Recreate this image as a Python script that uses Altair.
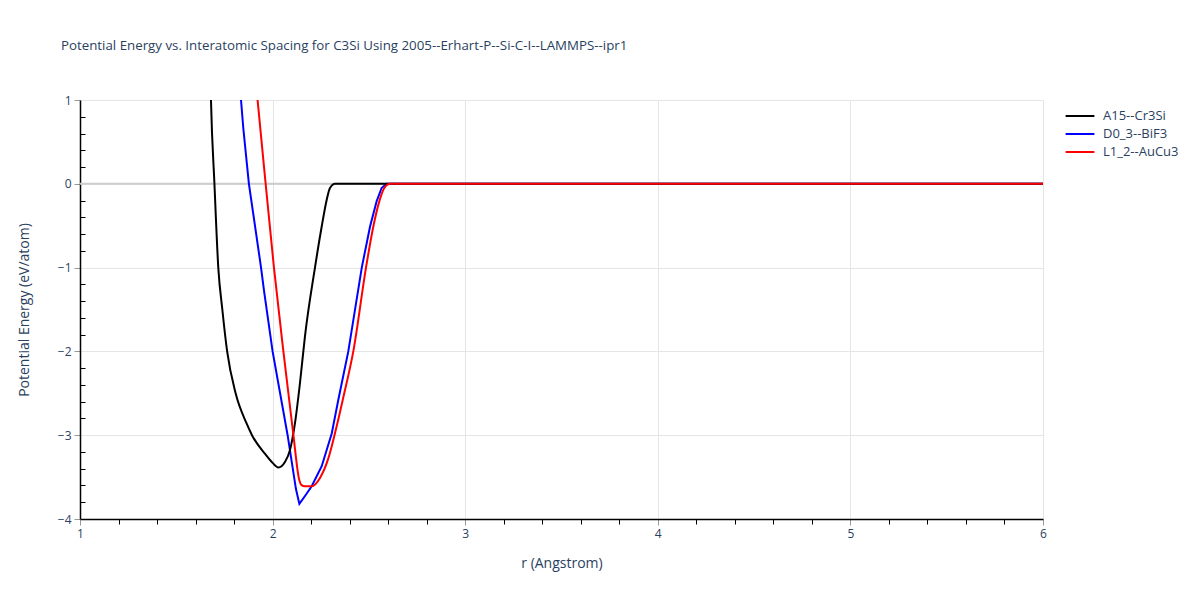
import altair as alt
import pandas as pd

# Data
a15_r = [1.677, 1.680, 1.698, 1.718, 1.739, 1.764, 1.808, 1.865, 1.893, 1.960, 2.000, 2.030,
         2.064, 2.090, 2.116, 2.142, 2.168, 2.220, 2.255, 2.281, 2.298, 2.324, 6.0]
a15_e = [1.3, 1.0, 0.0, -1.0, -1.5, -2.0, -2.5, -2.86, -3.0, -3.22, -3.33, -3.385,
         -3.32, -3.18, -2.86, -2.38, -1.82, -1.0, -0.51, -0.19, -0.05, 0.0, 0.0]

d03_r = [1.825, 1.836, 1.848, 1.877, 1.940, 1.955, 2.000, 2.078, 2.121, 2.139, 2.170, 2.203, 2.255, 2.307,
         2.341, 2.393, 2.463, 2.506, 2.540, 2.566, 2.592, 6.0]
d03_e = [1.3, 1.0, 0.66, 0.0, -1.0, -1.27, -2.0, -3.0, -3.64, -3.82, -3.72, -3.61, -3.37, -2.98,
         -2.58, -2.0, -1.0, -0.51, -0.21, -0.05, 0.0, 0.0]

l12_r = [1.910, 1.922, 1.964, 2.007, 2.056, 2.108, 2.137, 2.148, 2.168, 2.203, 2.246, 2.289, 2.332,
         2.367, 2.419, 2.485, 2.523, 2.554, 2.580, 2.610, 6.0]
l12_e = [1.3, 1.0, 0.0, -1.0, -2.0, -3.0, -3.52, -3.59, -3.61, -3.61, -3.51, -3.28, -2.90,
         -2.55, -2.0, -1.0, -0.51, -0.21, -0.05, 0.0, 0.0]

series_names = ["A15--Cr3Si", "D0_3--BiF3", "L1_2--AuCu3"]
series_colors = ["#000000", "#0000ff", "#ff0000"]

x_ticks = [round(1 + 0.2 * i, 1) for i in range(26)]
y_major = [1, 0, -1, -2, -3, -4]
y_minor = [round(-4 + 0.2 * i, 1) for i in range(26) if (i % 5) != 0]

rows = []
for name, rs, es in zip(series_names, [a15_r, d03_r, l12_r], [a15_e, d03_e, l12_e]):
    for i, (r, e) in enumerate(zip(rs, es)):
        rows.append({"series": name, "r": r, "E": e, "order": i})
df = pd.DataFrame(rows)

FONT = "Open Sans"
TXT = "#2a3f5f"
is_int = "abs(datum.value - round(datum.value)) < 1e-6"

xscale = alt.Scale(domain=[1, 6], nice=False, zero=False)
yscale = alt.Scale(domain=[-4, 1], nice=False, zero=False)

x_axis = alt.Axis(values=x_ticks, title="r (Angstrom)",
                  labelExpr=f"{is_int} ? format(datum.value, 'd') : ''",
                  grid=True, gridColor="#e5e5e5",
                  gridOpacity={"condition": {"test": is_int, "value": 1}, "value": 0},
                  tickColor={"condition": {"test": is_int, "value": "#999999"}, "value": "#000000"},
                  tickSize={"condition": {"test": is_int, "value": 6}, "value": 5},
                  domainColor="#000000", domainWidth=1.5,
                  labelPadding=3, titlePadding=17, labelFlush=False)

color_enc = alt.Color("series:N", scale=alt.Scale(domain=series_names, range=series_colors),
                      legend=alt.Legend(title=None, orient="none", legendX=990, legendY=6,
                                        symbolType="M-1.6,0H1.6", symbolSize=324, symbolStrokeWidth=2,
                                        symbolFillColor="transparent",
                                        rowPadding=1, labelFontSize=13, labelColor=TXT, labelFont=FONT,
                                        labelOffset=13))

zero_rule = alt.Chart(pd.DataFrame({"z": [0]})).mark_rule(color="#cccccc", strokeWidth=2).encode(
    y=alt.Y("z:Q", scale=yscale,
            axis=alt.Axis(orient="left", offset=-5, values=y_minor, tickColor="#000000", tickSize=5,
                          tickWidth=1, labels=False, domain=False, grid=False, title=None))
)

sharp = alt.Chart(df).transform_filter(alt.datum.series == "D0_3--BiF3").mark_line(
    strokeWidth=2, clip=True).encode(
    x=alt.X("r:Q", scale=xscale, axis=x_axis),
    y=alt.Y("E:Q", scale=yscale,
            axis=alt.Axis(orient="left", values=y_major, title="Potential Energy (eV/atom)",
                          grid=True, gridColor="#e5e5e5", tickColor="#999999", tickSize=6,
                          domainColor="#000000", domainWidth=1.5, format="d",
                          labelPadding=3, titlePadding=26)),
    color=color_enc,
    order="order:Q",
)

smooth = alt.Chart(df).transform_filter(alt.datum.series != "D0_3--BiF3").mark_line(
    strokeWidth=2, clip=True, interpolate="monotone").encode(
    x=alt.X("r:Q", scale=xscale, axis=x_axis),
    y=alt.Y("E:Q", scale=yscale, axis=None),
    color=color_enc,
    order="order:Q",
)

chart = alt.layer(zero_rule, sharp, smooth).resolve_axis(y="independent").properties(
    width=963, height=419,
    title=alt.TitleParams("Potential Energy vs. Interatomic Spacing for C3Si Using 2005--Erhart-P--Si-C-I--LAMMPS--ipr1",
                          anchor="start", frame="group", offset=42, dx=-19, fontSize=13.3,
                          font=FONT, color=TXT, fontWeight="normal"),
    autosize=alt.AutoSizeParams(type="none"),
    padding={"left": 72, "top": 92, "right": 149, "bottom": 73},
).configure_view(stroke=None).configure_axis(
    labelFont=FONT, titleFont=FONT, labelColor=TXT, titleColor=TXT, labelFontSize=12, titleFontSize=14,
    titleFontWeight="normal"
)

chart.save("out.html", embed_options={"renderer": "svg", "actions": False})
